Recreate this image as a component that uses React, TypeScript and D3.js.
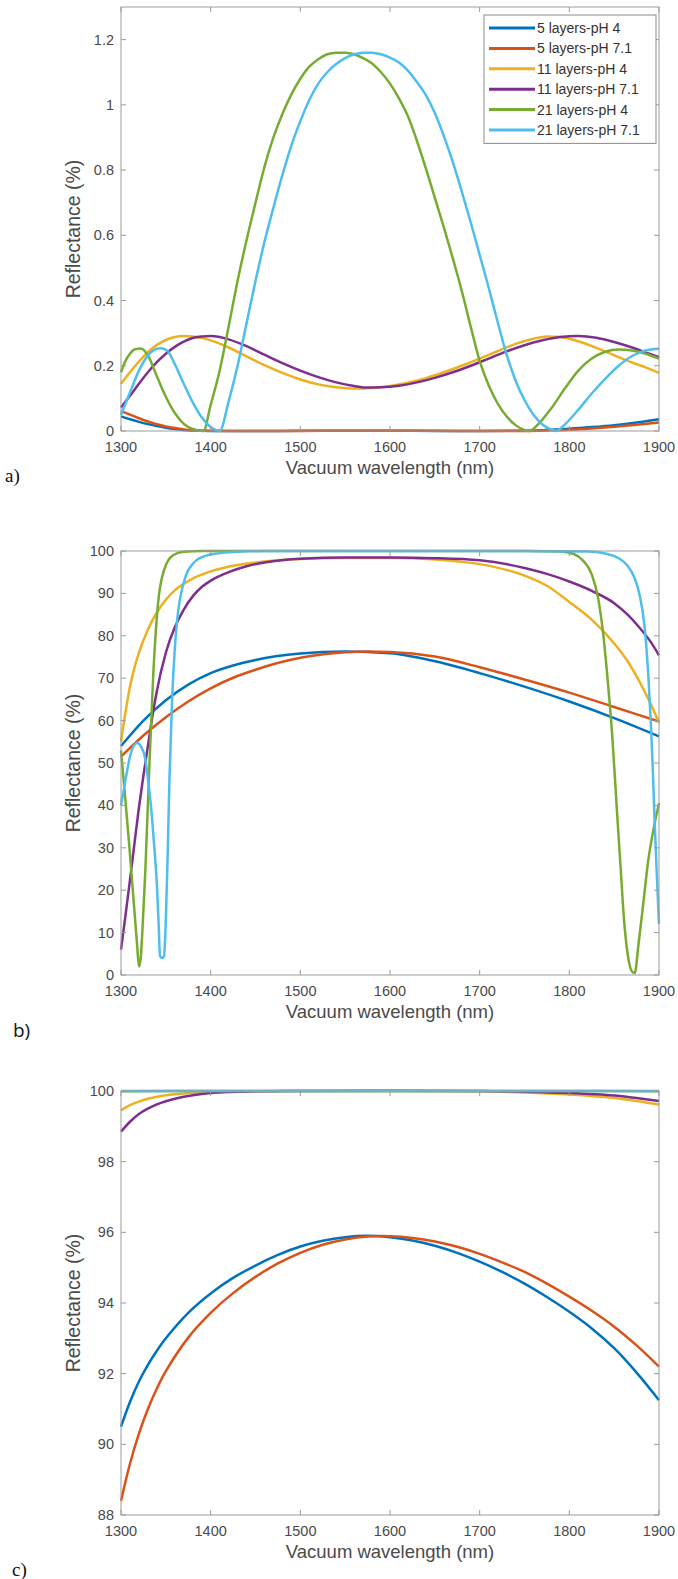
import React from "react";
import * as d3 from "d3";

type Pt = [number, number];

const SERIES = ["5 layers-pH 4", "5 layers-pH 7.1", "11 layers-pH 4", "11 layers-pH 7.1", "21 layers-pH 4", "21 layers-pH 7.1"];
const COLORS = ["#0072BD", "#D95319", "#EDB120", "#7E2F8E", "#77AC30", "#4DBEEE"];
const X_TICKS = [1300, 1400, 1500, 1600, 1700, 1800, 1900];
const A_Y_TICKS = [0, 0.2, 0.4, 0.6, 0.8, 1, 1.2];
const B_Y_TICKS = [0, 10, 20, 30, 40, 50, 60, 70, 80, 90, 100];
const C_Y_TICKS = [88, 90, 92, 94, 96, 98, 100];
const X_LABEL = "Vacuum wavelength (nm)";
const Y_LABEL = "Reflectance (%)";

// ---- panel a ----
const a5pH4: Pt[] = [[1300,0.045],[1310,0.036],[1320,0.028],[1330,0.021],[1340,0.015],[1350,0.01],[1360,0.006],[1370,0.003],[1380,0.0015],[1400,0.0003],[1450,0],[1500,0.0005],[1550,0.001],[1600,0.0008],[1650,0.0003],[1700,0],[1750,0.001],[1780,0.004],[1800,0.007],[1825,0.012],[1850,0.018],[1875,0.026],[1900,0.036]];
const a5pH71: Pt[] = [[1300,0.062],[1310,0.05],[1320,0.039],[1330,0.029],[1340,0.021],[1350,0.014],[1360,0.009],[1370,0.005],[1380,0.0025],[1400,0.0005],[1450,0],[1500,0.0003],[1550,0.0008],[1600,0.0008],[1650,0.0004],[1700,0.0001],[1750,0],[1780,0.002],[1800,0.004],[1825,0.008],[1850,0.013],[1875,0.019],[1900,0.026]];
const a11pH4: Pt[] = [[1300,0.145],[1310,0.18],[1320,0.213],[1330,0.242],[1340,0.264],[1350,0.279],[1360,0.288],[1370,0.291],[1380,0.29],[1390,0.285],[1400,0.278],[1420,0.256],[1440,0.229],[1460,0.202],[1480,0.178],[1500,0.158],[1520,0.143],[1540,0.134],[1560,0.13],[1580,0.132],[1600,0.138],[1620,0.148],[1640,0.162],[1660,0.18],[1680,0.2],[1700,0.222],[1720,0.245],[1740,0.267],[1760,0.283],[1775,0.29],[1790,0.288],[1810,0.275],[1830,0.255],[1850,0.232],[1870,0.21],[1885,0.195],[1900,0.178]];
const a11pH71: Pt[] = [[1300,0.072],[1310,0.108],[1320,0.145],[1330,0.18],[1340,0.211],[1350,0.237],[1360,0.258],[1370,0.274],[1380,0.285],[1390,0.29],[1400,0.291],[1410,0.288],[1420,0.281],[1440,0.26],[1460,0.234],[1480,0.208],[1500,0.185],[1520,0.165],[1540,0.149],[1560,0.138],[1575,0.133],[1590,0.134],[1610,0.139],[1630,0.149],[1650,0.163],[1670,0.18],[1690,0.2],[1710,0.222],[1730,0.244],[1750,0.263],[1770,0.278],[1790,0.288],[1810,0.291],[1830,0.286],[1850,0.273],[1870,0.256],[1890,0.236],[1900,0.226]];
const a21pH4: Pt[] = [[1300,0.18],[1305,0.215],[1310,0.237],[1315,0.25],[1322,0.253],[1330,0.232],[1340,0.168],[1350,0.105],[1360,0.055],[1370,0.022],[1380,0.006],[1392,0],[1400,0.08],[1410,0.185],[1420,0.32],[1430,0.46],[1440,0.585],[1450,0.7],[1460,0.81],[1470,0.9],[1480,0.972],[1490,1.032],[1500,1.08],[1510,1.117],[1520,1.14],[1530,1.155],[1540,1.16],[1550,1.16],[1560,1.155],[1570,1.143],[1580,1.127],[1590,1.1],[1600,1.065],[1610,1.02],[1620,0.965],[1630,0.89],[1640,0.805],[1650,0.715],[1660,0.625],[1670,0.53],[1680,0.43],[1690,0.32],[1700,0.215],[1710,0.14],[1720,0.085],[1730,0.045],[1740,0.018],[1750,0.003],[1755,0],[1765,0.02],[1780,0.07],[1795,0.13],[1810,0.185],[1825,0.222],[1840,0.243],[1855,0.25],[1870,0.247],[1885,0.237],[1900,0.222]];
const a21pH71: Pt[] = [[1300,0.05],[1310,0.118],[1320,0.185],[1330,0.232],[1340,0.252],[1345,0.254],[1352,0.245],[1360,0.205],[1370,0.145],[1380,0.088],[1390,0.042],[1400,0.012],[1410,0],[1420,0.09],[1430,0.2],[1440,0.33],[1450,0.46],[1460,0.58],[1470,0.685],[1480,0.785],[1490,0.875],[1500,0.95],[1510,1.015],[1520,1.065],[1530,1.1],[1540,1.125],[1550,1.143],[1560,1.155],[1570,1.16],[1580,1.16],[1590,1.155],[1600,1.145],[1610,1.13],[1620,1.105],[1630,1.07],[1640,1.03],[1650,0.975],[1660,0.905],[1670,0.825],[1680,0.735],[1690,0.64],[1700,0.54],[1710,0.44],[1720,0.335],[1730,0.235],[1740,0.155],[1750,0.095],[1760,0.05],[1770,0.02],[1780,0.004],[1785,0],[1795,0.02],[1810,0.065],[1825,0.115],[1840,0.16],[1855,0.2],[1870,0.23],[1885,0.247],[1900,0.252]];

// ---- panel b ----
const b5pH4: Pt[] = [[1300,54],[1325,60],[1350,64.8],[1375,68.5],[1400,71.2],[1425,73],[1450,74.3],[1500,75.8],[1550,76.3],[1600,75.9],[1650,74.0],[1700,71.2],[1750,68.0],[1800,64.5],[1850,60.6],[1900,56.3]];
const b5pH71: Pt[] = [[1300,51.5],[1325,56.5],[1350,60.8],[1375,64.5],[1400,67.6],[1425,70.1],[1450,72],[1500,74.8],[1550,76.1],[1575,76.3],[1600,76.2],[1650,75.1],[1700,72.6],[1750,69.7],[1800,66.6],[1850,63.2],[1900,59.8]];
const b11pH4: Pt[] = [[1300,55],[1305,62],[1310,68],[1315,72.5],[1320,76],[1330,81.5],[1340,85.5],[1350,88.5],[1360,90.7],[1380,93.5],[1400,95.2],[1430,96.7],[1460,97.5],[1500,98.1],[1550,98.35],[1600,98.35],[1650,98.0],[1700,96.9],[1750,94.2],[1775,91.8],[1800,88],[1825,83.8],[1850,78.2],[1865,74],[1880,68.5],[1890,64.3],[1900,59.5]];
const b11pH71: Pt[] = [[1300,6],[1305,14],[1310,22.4],[1315,31],[1320,39.5],[1325,47],[1330,54],[1335,61],[1340,67],[1350,76],[1360,82],[1370,86.2],[1380,89.3],[1390,91.5],[1400,93],[1420,95],[1440,96.4],[1460,97.3],[1500,98.2],[1550,98.45],[1600,98.45],[1650,98.3],[1700,97.8],[1750,96],[1775,94.6],[1800,92.8],[1825,90.6],[1850,87.7],[1865,85],[1880,81.5],[1890,78.8],[1900,75.4]];
const b21pH4: Pt[] = [[1300,53],[1305,41],[1310,28.5],[1315,15],[1318,7],[1320,2],[1322,4],[1324,11],[1327,24],[1331,46],[1336,71],[1341,87],[1348,95.5],[1358,99],[1370,99.8],[1390,100],[1450,100],[1550,100],[1650,100],[1750,100],[1790,99.9],[1805,99.3],[1815,97.8],[1825,94.5],[1832,89],[1838,80],[1843,69],[1848,56],[1853,39],[1857,26],[1861,13],[1865,5],[1870,0.8],[1873,0.5],[1877,7],[1882,16],[1888,27],[1894,34.5],[1900,40.5]];
const b21pH71: Pt[] = [[1300,40],[1305,46],[1310,51.5],[1314,54],[1318,54.8],[1322,54],[1327,51],[1331,44.5],[1334,38.5],[1337,30.5],[1340,21.5],[1342,12],[1343.5,4.5],[1346,4],[1348,4.5],[1350,13],[1352,28],[1354,46],[1357,65],[1360,77],[1363,84.5],[1367,90],[1372,94],[1382,97.4],[1395,98.9],[1410,99.5],[1430,99.8],[1460,100],[1550,100],[1650,100],[1750,100],[1820,99.9],[1840,99.4],[1855,98.3],[1865,96.5],[1872,94],[1878,90],[1884,82],[1888,71],[1891,59],[1893,49],[1895,37],[1897.5,24],[1900,12]];

// ---- panel c ----
const c5pH4: Pt[] = [[1300,90.5],[1310,91.2],[1320,91.78],[1330,92.25],[1340,92.65],[1350,93.0],[1375,93.72],[1400,94.27],[1425,94.71],[1450,95.06],[1475,95.36],[1500,95.6],[1525,95.76],[1550,95.86],[1575,95.9],[1600,95.86],[1625,95.77],[1650,95.62],[1675,95.42],[1700,95.17],[1725,94.88],[1750,94.55],[1775,94.17],[1800,93.75],[1825,93.28],[1850,92.72],[1875,92.03],[1900,91.25]];
const c5pH71: Pt[] = [[1300,88.4],[1310,89.45],[1320,90.3],[1330,91.0],[1340,91.58],[1350,92.07],[1375,93.02],[1400,93.72],[1425,94.28],[1450,94.74],[1475,95.12],[1500,95.42],[1525,95.65],[1550,95.8],[1575,95.88],[1600,95.89],[1625,95.84],[1650,95.74],[1675,95.59],[1700,95.39],[1725,95.15],[1750,94.88],[1775,94.55],[1800,94.18],[1825,93.78],[1850,93.33],[1875,92.8],[1900,92.2]];
const c11pH4: Pt[] = [[1300,99.45],[1310,99.6],[1320,99.7],[1330,99.78],[1340,99.84],[1350,99.88],[1370,99.93],[1400,99.97],[1450,99.99],[1500,100],[1700,99.99],[1750,99.96],[1800,99.9],[1850,99.8],[1875,99.72],[1900,99.62]];
const c11pH71: Pt[] = [[1300,98.85],[1310,99.13],[1320,99.35],[1330,99.5],[1340,99.62],[1350,99.71],[1360,99.78],[1380,99.88],[1400,99.94],[1450,99.99],[1500,100],[1700,100],[1750,99.98],[1800,99.94],[1850,99.87],[1875,99.8],[1900,99.72]];
const c21pH4: Pt[] = [[1300,99.99],[1400,100],[1600,100],[1800,100],[1900,99.99]];
const c21pH71: Pt[] = [[1300,100],[1500,100],[1700,100],[1900,100]];

const LEFT = 121;
const RIGHT = 659;
const TICK = 5;
const AXIS_COLOR = "#9b9b9b";
const TEXT_COLOR = "#4a4a4a";
const SANS = "'Liberation Sans', Arial, sans-serif";

type PanelProps = {
  top: number;
  bottom: number;
  yDomain: [number, number];
  yTicks: number[];
  data: Pt[][];
  legend?: boolean;
  smooth?: boolean;
  label: string;
  labelFont: string;
  labelX: number;
  labelY: number;
  yLabelShift?: number;
};

function Panel({ top, bottom, yDomain, yTicks, data, legend, smooth, label, labelFont, labelX, labelY, yLabelShift = 0 }: PanelProps) {
  const x = d3.scaleLinear().domain([1300, 1900]).range([LEFT, RIGHT]);
  const y = d3.scaleLinear().domain(yDomain).range([bottom, top]);
  const line = d3
    .line<Pt>()
    .x((d) => x(d[0]))
    .y((d) => y(d[1]))
    .curve(smooth ? d3.curveCatmullRom.alpha(0.5) : d3.curveMonotoneX);
  const fmt = d3.format("~g");
  const legTop = top + 8;
  const legLeft = 484;
  const legRight = 656;
  const rowH = 20.4;
  return (
    <g>
      {data.map((s, i) => (
        <path key={i} d={line(s) || ""} fill="none" stroke={COLORS[i]} strokeWidth={2.5} strokeLinejoin="round" />
      ))}
      <rect x={LEFT} y={top} width={RIGHT - LEFT} height={bottom - top} fill="none" stroke={AXIS_COLOR} strokeWidth={1} />
      {X_TICKS.map((t) => (
        <g key={"x" + t}>
          <line x1={x(t)} x2={x(t)} y1={bottom} y2={bottom - TICK} stroke={AXIS_COLOR} />
          <line x1={x(t)} x2={x(t)} y1={top} y2={top + TICK} stroke={AXIS_COLOR} />
          <text x={x(t)} y={bottom + 21} textAnchor="middle" fontFamily={SANS} fontSize={14.5} fill={TEXT_COLOR}>
            {t}
          </text>
        </g>
      ))}
      {yTicks.map((t) => (
        <g key={"y" + t}>
          <line x1={LEFT} x2={LEFT + TICK} y1={y(t)} y2={y(t)} stroke={AXIS_COLOR} />
          <line x1={RIGHT} x2={RIGHT - TICK} y1={y(t)} y2={y(t)} stroke={AXIS_COLOR} />
          <text x={LEFT - 7} y={y(t)} dy="0.35em" textAnchor="end" fontFamily={SANS} fontSize={14.5} fill={TEXT_COLOR}>
            {fmt(t)}
          </text>
        </g>
      ))}
      <text x={(LEFT + RIGHT) / 2} y={bottom + 43} textAnchor="middle" fontFamily={SANS} fontSize={18.5} fill={TEXT_COLOR}>
        {X_LABEL}
      </text>
      <text
        transform={`translate(${80},${(top + bottom) / 2 + yLabelShift}) rotate(-90)`}
        textAnchor="middle"
        fontFamily={SANS}
        fontSize={19.5}
        fill={TEXT_COLOR}
      >
        {Y_LABEL}
      </text>
      <text x={labelX} y={labelY} fontFamily={labelFont} fontSize={19} fill="#111">
        {label}
      </text>
      {legend && (
        <g>
          <rect x={legLeft} y={legTop} width={legRight - legLeft} height={rowH * 6 + 6} fill="#fff" stroke="#8a8a8a" strokeWidth={1} />
          {SERIES.map((name, i) => {
            const cy = legTop + 13 + i * rowH;
            return (
              <g key={name}>
                <line x1={legLeft + 5} x2={legLeft + 51} y1={cy} y2={cy} stroke={COLORS[i]} strokeWidth={3} />
                <text x={legLeft + 53} y={cy} dy="0.35em" fontFamily={SANS} fontSize={14} fill="#333">
                  {name}
                </text>
              </g>
            );
          })}
        </g>
      )}
    </g>
  );
}

export default function App() {
  return (
    <svg
      width={678}
      height={1579}
      viewBox="0 0 678 1579"
      style={{ position: "absolute", left: 0, top: 0, background: "#fff" }}
    >
      <rect x={0} y={0} width={678} height={1579} fill="#fff" />
      <Panel
        top={7}
        bottom={431}
        yDomain={[0, 1.3]}
        yTicks={A_Y_TICKS}
        data={[a5pH4, a5pH71, a11pH4, a11pH71, a21pH4, a21pH71]}
        legend
        label="a)"
        labelFont="'Liberation Serif', 'Times New Roman', serif"
        labelX={5}
        labelY={482}
        yLabelShift={10}
      />
      <Panel
        top={551}
        bottom={975}
        yDomain={[0, 100]}
        yTicks={B_Y_TICKS}
        data={[b5pH4, b5pH71, b11pH4, b11pH71, b21pH4, b21pH71]}
        label="b)"
        labelFont="'Open Sans', 'Noto Sans', sans-serif"
        labelX={13}
        labelY={1037}
      />
      <Panel
        top={1091}
        bottom={1515}
        yDomain={[88, 100]}
        yTicks={C_Y_TICKS}
        data={[c5pH4, c5pH71, c11pH4, c11pH71, c21pH4, c21pH71]}
        smooth
        label="c)"
        labelFont="'Liberation Serif', 'Times New Roman', serif"
        labelX={12}
        labelY={1576}
      />
    </svg>
  );
}
